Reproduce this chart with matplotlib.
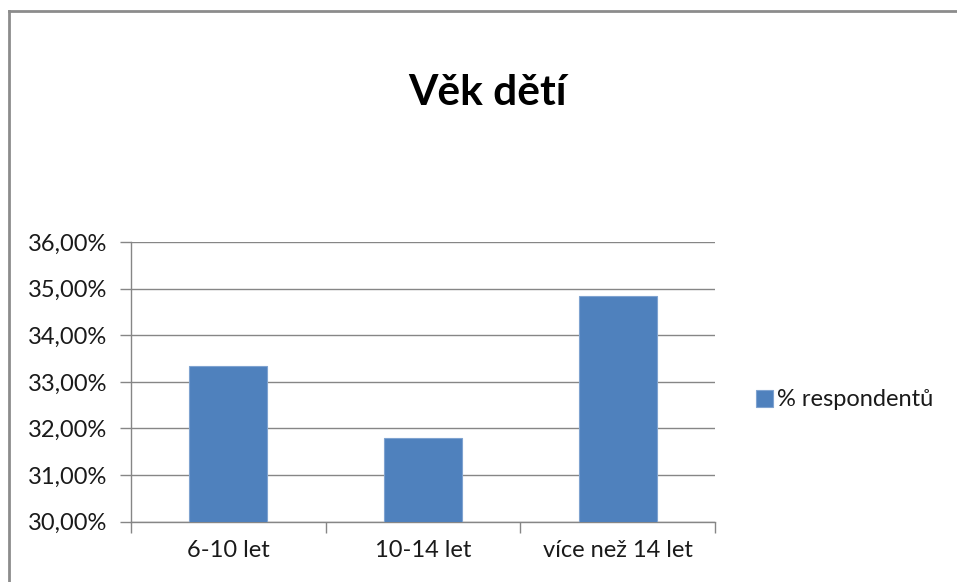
import matplotlib
matplotlib.use("Agg")
import matplotlib.pyplot as plt
from matplotlib.lines import Line2D
from matplotlib.ticker import FuncFormatter, FixedLocator

# data
categories = ["6-10 let", "10-14 let", "více než 14 let"]
values = [33.35, 31.80, 34.85]
series_name = "% respondentů"
title = "Věk dětí"

plt.rcParams['font.family'] = ['Lato', 'DejaVu Sans']

W, H = 957, 582
fig = plt.figure(figsize=(W / 100, H / 100), dpi=100)

# plot area in pixel coords of the reference
left, right, top, bottom = 131, 715, 242, 521.7
ax = fig.add_axes([left / W, 1 - bottom / H, (right - left) / W, (bottom - top) / H])

grey = "#868686"
txt = "#1a1a1a"
fs = 17

ax.bar(range(len(values)), values, width=0.4, color="#4F81BD",
       edgecolor="#7FA3D0", linewidth=0.8, label=series_name, zorder=3)

ax.set_xlim(-0.5, len(values) - 0.5)
ax.set_ylim(30, 36)
ax.set_yticks(range(30, 37))
ax.yaxis.set_major_formatter(FuncFormatter(lambda v, p: f"{v:.2f}%".replace(".", ",")))
ax.grid(axis="y", color=grey, linewidth=1, zorder=0)

ax.set_xticks(range(len(categories)))
ax.set_xticklabels(categories)
ax.xaxis.set_minor_locator(FixedLocator([i - 0.5 for i in range(len(categories) + 1)]))
ax.tick_params(axis="x", which="major", length=0, pad=13, labelsize=fs, colors=txt)
ax.tick_params(axis="x", which="minor", length=8, color=grey, width=1)
ax.tick_params(axis="y", length=8, color=grey, width=1, pad=9, labelsize=fs, labelcolor=txt)

for side in ["top", "right"]:
    ax.spines[side].set_visible(False)
for side in ["left", "bottom"]:
    ax.spines[side].set_color(grey)
    ax.spines[side].set_linewidth(1)

fig.text(487 / W, 1 - 93 / H, title, ha="center", va="center",
         fontsize=30.5, fontweight="bold", color="black")

fig.legend(loc="center left", bbox_to_anchor=(756 / W, 1 - 400 / H), frameon=False,
           handlelength=0.72, handleheight=0.72, handletextpad=0.15, borderpad=0,
           borderaxespad=0, fontsize=fs, labelcolor=txt)

# outer chart border, cut off at right and bottom
fig.add_artist(Line2D([9 / W, 9 / W], [0, 1 - 11 / H], transform=fig.transFigure,
                      color="#8c8c8c", linewidth=2))
fig.add_artist(Line2D([9 / W, 1], [1 - 11 / H, 1 - 11 / H], transform=fig.transFigure,
                      color="#8c8c8c", linewidth=2))

fig.savefig("out.png", dpi=100)
